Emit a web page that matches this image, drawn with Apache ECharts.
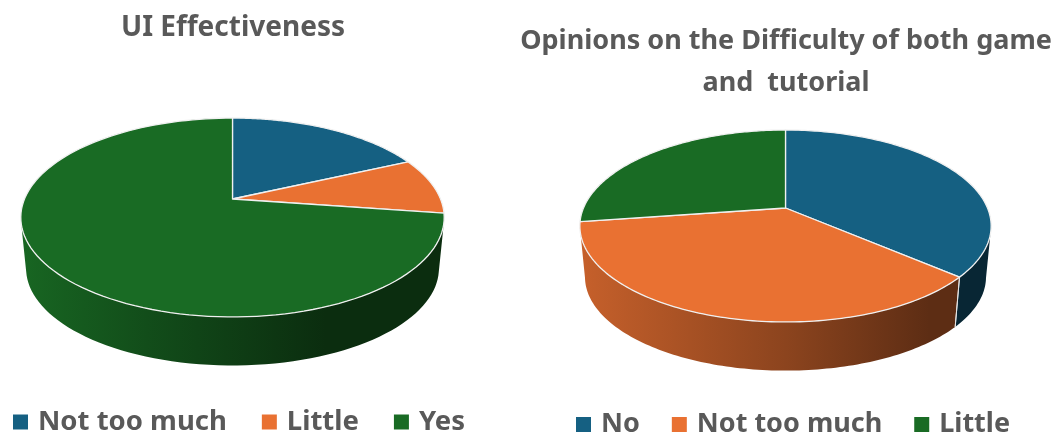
<!DOCTYPE html>
<html><head><meta charset="utf-8">
<style>html,body{margin:0;padding:0;background:#fff}#c{width:1056px;height:432px}</style>
<script src="https://cdn.jsdelivr.net/npm/echarts@6/dist/echarts.min.js"></script>
</head><body><div id="c"></div>
<script>
const uiCategories = ['Not too much', 'Little', 'Yes'];
const uiValues = [2, 1, 8];
const difficultyCategories = ['No', 'Not too much', 'Little'];
const difficultyValues = [4, 4, 3];
const uiColors = ['#156082', '#E97132', '#196B24'];
const difficultyColors = ['#156082', '#E97132', '#196B24'];

const FONT = '"Noto Sans", sans-serif';
const GREY = '#595959';
const uiDisc = {cx: 232.5, cy: 199, A: 208, B: 96, k: 0.186, depth: 51.5, s: 0.975, left: 20, right: 445, stops: [[0, .95], [.3, .72], [.72, .42], [1, .42]]};
const difficultyDisc = {cx: 785.5, cy: 208, A: 202, B: 92.6, k: 0.1875, depth: 51.5, s: 0.975, left: 580, right: 991, stops: [[0, .85], [.5, .6], [.85, .4], [1, .4]]};

function shade(hex, f) {
  const n = parseInt(hex.slice(1), 16);
  const c = [n >> 16, (n >> 8) & 255, n & 255].map(x => Math.round(x * f));
  return 'rgb(' + c.join(',') + ')';
}
function project(d, theta, lower) {
  const u = Math.sin(theta), v = -Math.cos(theta), w = 1 - d.k * v;
  const s = lower ? d.s : 1;
  return [d.cx + s * d.A * u / w, d.cy + (lower ? d.depth : 0) + s * d.B * v / w];
}
function sliceSeries(name, index, values, color, disc) {
  const total = values.reduce((a, b) => a + b, 0);
  const before = values.slice(0, index).reduce((a, b) => a + b, 0);
  return {
    type: 'custom', name, coordinateSystem: 'none', silent: true, animation: false,
    itemStyle: {color},
    data: [[values[index]]],
    renderItem(params, api) {
      const a0 = before / total * 2 * Math.PI;
      const a1 = a0 + api.value(0) / total * 2 * Math.PI;
      const N = 120, rim = [], front = [];
      for (let i = 0; i <= N; i++) {
        const t = a0 + (a1 - a0) * i / N;
        rim.push(project(disc, t));
        if (-Math.cos(t) >= disc.k) front.push(t);
      }
      const children = [];
      if (front.length > 1) {
        const upper = front.map(t => project(disc, t));
        const lower = front.map(t => project(disc, t, true)).reverse();
        children.push({
          type: 'polygon', z2: 1, shape: {points: upper.concat(lower)},
          style: {fill: new echarts.graphic.LinearGradient(disc.left, 0, disc.right, 0,
            disc.stops.map(s => ({offset: s[0], color: shade(color, s[1])})), true)}
        });
        [a0, a1].forEach(t => {
          if (-Math.cos(t) > disc.k && Math.abs(Math.sin(t)) > 0.05) {
            children.push({type: 'line', z2: 2, shape: (p => ({x1: p[0][0], y1: p[0][1], x2: p[1][0], y2: p[1][1]}))([project(disc, t), project(disc, t, true)]),
              style: {stroke: '#e4e4e4', lineWidth: 1, fill: 'none'}});
          }
        });
      }
      children.push({
        type: 'polygon', z2: 10, shape: {points: [[disc.cx, disc.cy]].concat(rim)},
        style: {fill: color, stroke: '#f0f0f0', lineWidth: 1.3, lineJoin: 'round'}
      });
      return {type: 'group', children};
    }
  };
}
const legendText = {color: GREY, fontFamily: FONT, fontWeight: 'bold', fontSize: 27.5, padding: [0, 0, 0, 5]};
const legendTextRight = {color: GREY, fontFamily: FONT, fontWeight: 'bold', fontSize: 27, padding: [0, 0, 0, 5]};
const option = {
  backgroundColor: '#fff',
  animation: false,
  title: [
    {text: 'UI Effectiveness', left: 233, textAlign: 'center', top: 14, padding: 0,
     textStyle: {color: GREY, fontFamily: FONT, fontWeight: 'bold', fontSize: 28}},
    {text: 'Opinions on the Difficulty of both game\nand  tutorial', left: 786, textAlign: 'center', top: 20, padding: 0,
     textStyle: {color: GREY, fontFamily: FONT, fontWeight: 'bold', fontSize: 27, lineHeight: 42}}
  ],
  legend: [
    {left: 13, top: 408, padding: 0, itemWidth: 15, itemHeight: 15, itemGap: 35, icon: 'rect', selectedMode: false, textStyle: legendText,
     data: uiCategories.map((n, i) => ({name: n, itemStyle: {color: uiColors[i]}}))},
    {left: 576, top: 411, padding: 0, itemWidth: 15, itemHeight: 15, itemGap: 32, icon: 'rect', selectedMode: false, textStyle: legendTextRight,
     data: difficultyCategories.map((n, i) => ({name: n, itemStyle: {color: difficultyColors[i]}}))}
  ],
  series: uiCategories.map((n, i) => sliceSeries(n, i, uiValues, uiColors[i], uiDisc))
    .concat(difficultyCategories.map((n, i) => sliceSeries(n, i, difficultyValues, difficultyColors[i], difficultyDisc)))
};
echarts.init(document.getElementById('c'), null, {renderer: 'canvas'}).setOption(option);
</script></body></html>
